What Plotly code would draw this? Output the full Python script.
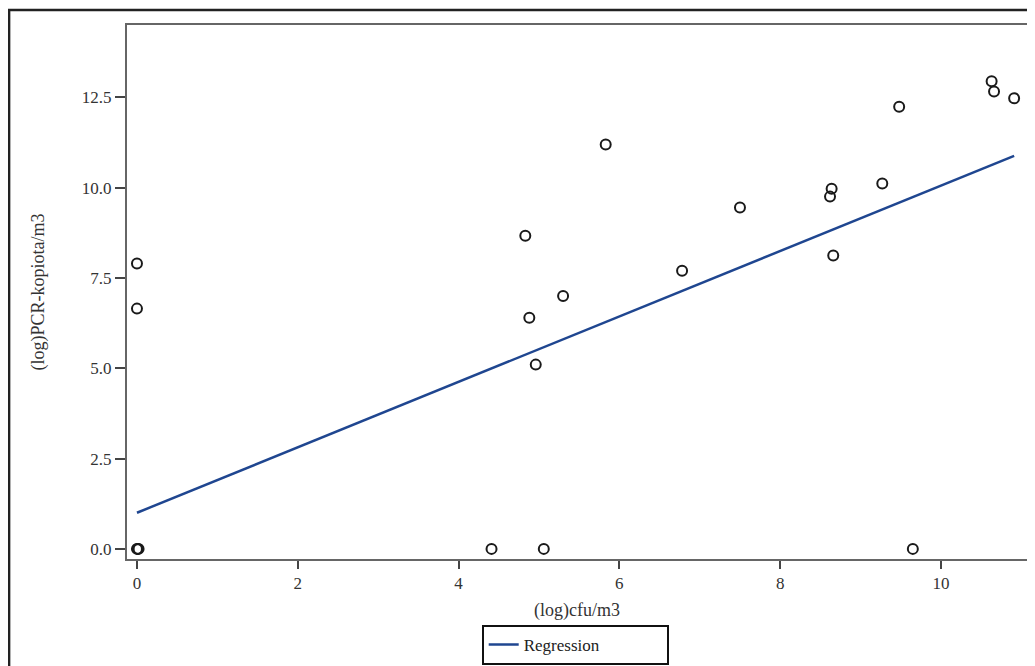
import plotly.graph_objects as go

# Observed data: (log)cfu/m3 vs (log)PCR-kopiota/m3
cfu = [0.0, 0.01, 0.02, 0.0, 0.0, 4.41, 5.06, 9.65, 4.96, 4.83, 4.88, 5.30, 5.83,
       6.78, 7.50, 8.62, 8.64, 8.66, 9.27, 9.48, 10.63, 10.66, 10.91]
pcr = [0.0, 0.0, 0.0, 7.90, 6.65, 0.0, 0.0, 0.0, 5.10, 8.67, 6.40, 7.00, 11.19,
       7.70, 9.45, 9.75, 9.97, 8.12, 10.11, 12.24, 12.94, 12.66, 12.47]

# Regression line end points
reg_x = [0.0, 10.91]
reg_y = [1.0, 10.88]

y_ticks = [0.0, 2.5, 5.0, 7.5, 10.0, 12.5]
x_ticks = [0, 2, 4, 6, 8, 10]

FONT = "Liberation Serif"

fig = go.Figure()
fig.add_trace(go.Scatter(
    x=cfu, y=pcr, mode="markers", showlegend=False,
    marker=dict(symbol="circle-open", size=10, color="#1a1a1a", line=dict(width=2, color="#1a1a1a")),
))
fig.add_trace(go.Scatter(
    x=reg_x, y=reg_y, mode="lines", name="Regression",
    line=dict(color="#1f4690", width=2.5),
))

axis_common = dict(
    showgrid=False, zeroline=False, showline=True, linecolor="#666666", linewidth=2,
    mirror=True, ticks="outside", tickwidth=2, tickcolor="#444444",
    tickfont=dict(family=FONT, size=17, color="#333333"), automargin=False,
)

fig.update_layout(
    width=1027, height=658,
    paper_bgcolor="white", plot_bgcolor="white",
    margin=dict(l=119, r=8, t=17, b=107, autoexpand=False),
    font=dict(family=FONT, color="#333333"),
    xaxis=dict(range=[-0.124, 11.07], tickvals=x_ticks, ticklen=8,
               title=dict(text="(log)cfu/m3", font=dict(family=FONT, size=18, color="#333333"), standoff=11),
               **axis_common),
    yaxis=dict(range=[-0.28, 14.5], tickvals=y_ticks, tickformat=".1f", ticklen=10,
               title=dict(text="(log)PCR-kopiota/m3", font=dict(family=FONT, size=18, color="#333333"), standoff=33),
               **axis_common),
    legend=dict(orientation="h", x=0.498, xanchor="center", y=-0.1236, yanchor="top",
                bordercolor="#111111", borderwidth=2, bgcolor="white",
                font=dict(family=FONT, size=17, color="#222222"),
                entrywidth=138),
    shapes=[dict(type="rect", xref="paper", yref="paper",
                 x0=-0.131, x1=1.05, y0=-0.4, y1=1.028,
                 line=dict(color="#222222", width=2.5))],
)

fig.write_html("out.html")
